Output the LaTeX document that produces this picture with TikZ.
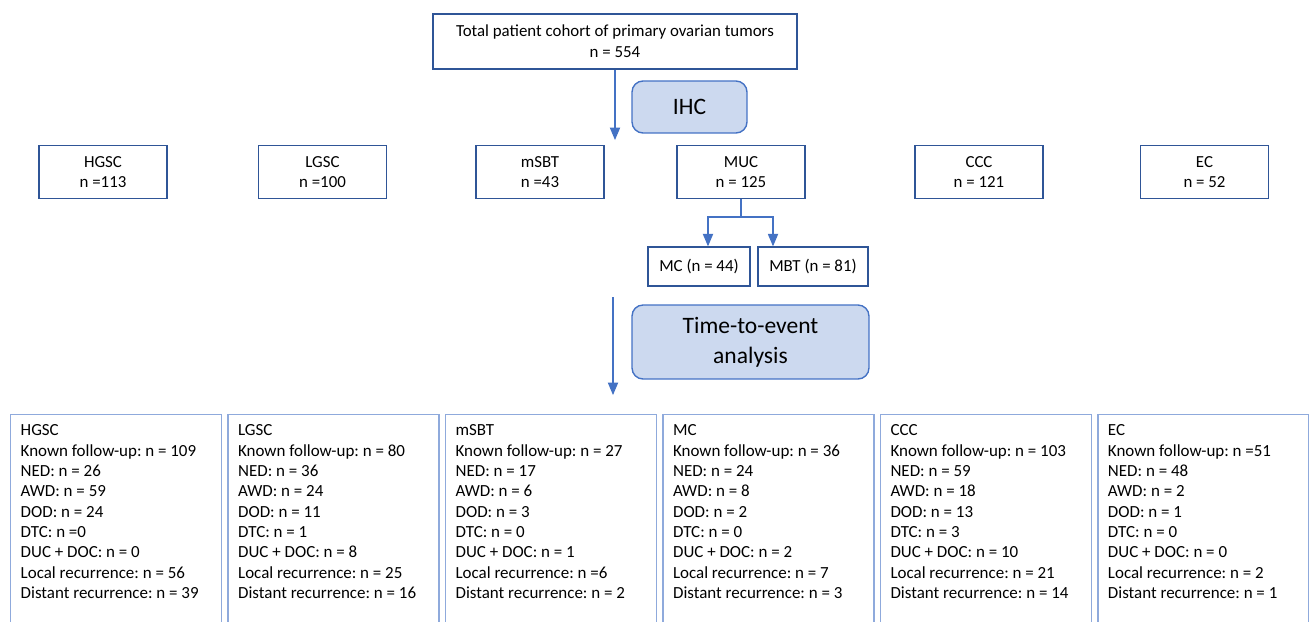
\documentclass[tikz,border=0pt]{standalone}
\usepackage{fontspec}
\setmainfont{Carlito}
\usetikzlibrary{arrows,positioning}

\definecolor{rowblue}{HTML}{2F5597}
\definecolor{lineblue}{HTML}{4472C4}
\definecolor{stepfill}{HTML}{CCD9EF}
\definecolor{fublue}{HTML}{8FAADC}

% follow-up list, top aligned in a tall box
\newcommand{\fulist}[1]{\parbox[t][4.1cm][t]{3.82cm}{\frenchspacing\fontsize{9.65pt}{11.6pt}\selectfont #1}}

\begin{document}
\frenchspacing
\begin{tikzpicture}[x=0.02cm,y=-0.02cm,>=triangle 45,node distance=4.35cm,
	every node/.style={font=\fontsize{9.6pt}{11.8pt}\selectfont},
	group/.style={shape=rectangle,draw=rowblue,line width=0.8pt,minimum width=2.56cm,minimum height=1.06cm,align=center,inner sep=0pt},
	stepbox/.style={shape=rectangle,draw=lineblue,fill=stepfill,line width=0.8pt,rounded corners=0.22cm,align=center,font=\fontsize{13.4pt}{17pt}\selectfont,inner sep=0pt},
	fubox/.style={shape=rectangle,draw=fublue,line width=0.8pt,inner xsep=0.2cm,inner ysep=0.2cm},
	link/.style={lineblue,line width=0.6pt}]
				\useasboundingbox (0,0) rectangle (1309,622);
				\clip (0,0) rectangle (1309,622);

				\node (total) [group,minimum width=7.28cm,minimum height=1.1cm] at (615,41.5) {Total patient cohort of primary ovarian tumors\\n = 554};
				\node (ihc) [stepbox,minimum width=2.3cm,minimum height=1.04cm] at (689.5,107) {IHC};

				\node (hgsc) [group] at (103,172) {HGSC\\n =113};
				\node (lgsc) [group] at (322.5,172) {LGSC\\n =100};
				\node (msbt) [group] at (540,172) {mSBT\\n =43};
				\node (muc) [group] at (741,172) {MUC\\n = 125};
				\node (ccc) [group] at (979,172) {CCC\\n = 121};
				\node (ec) [group] at (1204.5,172) {EC\\n = 52};

				\node (mc) [group,minimum width=2.04cm,minimum height=0.78cm] at (699,266.5) {MC (n = 44)};
				\node (mbt) [group,minimum width=2.2cm,minimum height=0.78cm] at (813,266.5) {MBT (n = 81)};

				\node (tte) [stepbox,minimum width=4.74cm,minimum height=1.48cm] at (750.5,342) {Time-to-event\\analysis};

				\node (hgscfu) [fubox,anchor=north west] at (10,414) {\fulist{HGSC\\Known follow-up: n = 109\\NED: n = 26\\AWD: n = 59\\DOD: n = 24\\DTC: n =0\\DUC + DOC: n = 0\\Local recurrence: n = 56\\Distant recurrence: n = 39}};
				\node (lgscfu) [fubox] [right of = hgscfu] {\fulist{LGSC\\Known follow-up: n = 80\\NED: n = 36\\AWD: n = 24\\DOD: n = 11\\DTC: n = 1\\DUC + DOC: n = 8\\Local recurrence: n = 25\\Distant recurrence: n = 16}};
				\node (msbtfu) [fubox] [right of = lgscfu] {\fulist{mSBT\\Known follow-up: n = 27\\NED: n = 17\\AWD: n = 6\\DOD: n = 3\\DTC: n = 0\\DUC + DOC: n = 1\\Local recurrence: n =6\\Distant recurrence: n = 2}};
				\node (mcfu) [fubox] [right of = msbtfu] {\fulist{MC\\Known follow-up: n = 36\\NED: n = 24\\AWD: n = 8\\DOD: n = 2\\DTC: n = 0\\DUC + DOC: n = 2\\Local recurrence: n = 7\\Distant recurrence: n = 3}};
				\node (cccfu) [fubox] [right of = mcfu] {\fulist{CCC\\Known follow-up: n = 103\\NED: n = 59\\AWD: n = 18\\DOD: n = 13\\DTC: n = 3\\DUC + DOC: n = 10\\Local recurrence: n = 21\\Distant recurrence: n = 14}};
				\node (ecfu) [fubox] [right of = cccfu] {\fulist{EC\\Known follow-up: n =51\\NED: n = 48\\AWD: n = 2\\DOD: n = 1\\DTC: n = 0\\DUC + DOC: n = 0\\Local recurrence: n = 2\\Distant recurrence: n = 1}};

				\coordinate (ihcend) at (615,140);
				\coordinate (ttestart) at (613,297);
				\coordinate (tteend) at (613,395);
				\coordinate (split) at (741,217);

				\draw[->,link] (total) -- (ihcend);
				\draw[link] (muc) -- (split);
				\draw[->,link] (split) -| ([xshift=0.18cm]mc.north);
				\draw[->,link] (split) -| ([xshift=-0.8cm]mbt.north);
				\draw[->,link] (ttestart) -- (tteend);
			\end{tikzpicture}
\end{document}
